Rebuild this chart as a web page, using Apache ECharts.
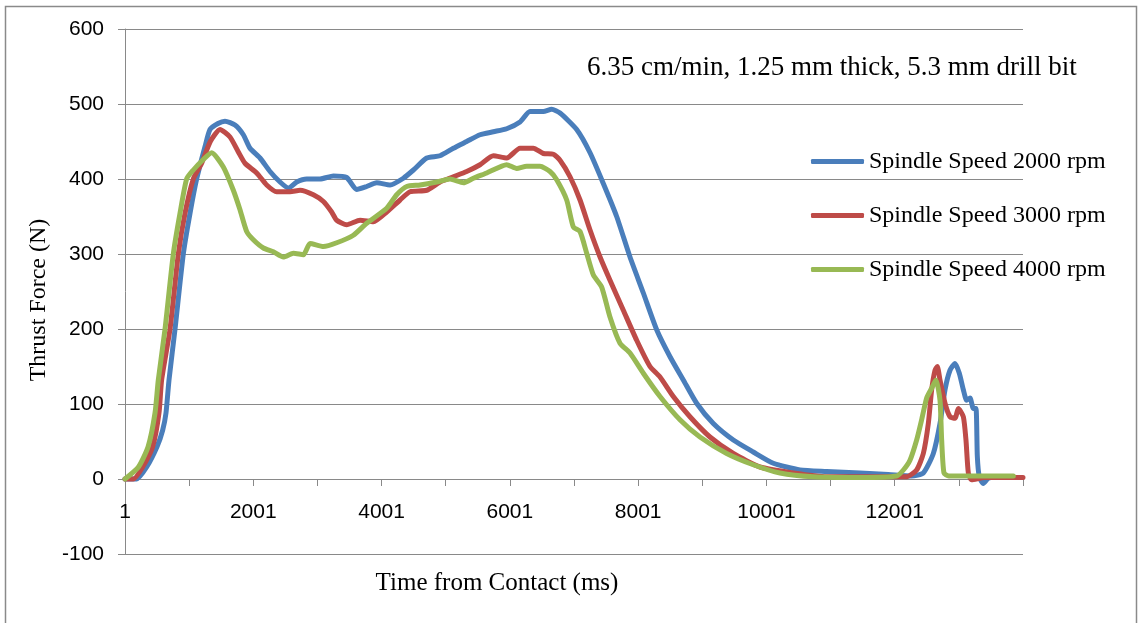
<!DOCTYPE html>
<html>
<head>
<meta charset="utf-8">
<title>Thrust force vs time</title>
<script src="https://cdn.jsdelivr.net/npm/echarts@6/dist/echarts.min.js"></script>
<style>
  html, body { margin: 0; padding: 0; background: #fff; }
  #chart { width: 1142px; height: 623px; }
</style>
</head>
<body>
<div id="chart"></div>
<script>
// Sample times (ms from contact) and thrust force (N) for each spindle speed
const t2000 = [0, 180, 338, 499, 587, 639, 686, 780, 909, 1013, 1117, 1247, 1325, 1450, 1559, 1715, 1845, 1949, 2105, 2261, 2417, 2547, 2677, 2833, 3041, 3249, 3456, 3612, 3768, 3924, 4132, 4340, 4496, 4704, 4911, 5119, 5327, 5535, 5743, 5951, 6158, 6314, 6522, 6652, 6782, 7042, 7250, 7457, 7665, 7873, 8081, 8289, 8497, 8704, 8912, 9172, 9484, 9795, 10107, 10523, 10940, 11459, 11900, 12264, 12446, 12602, 12706, 12784, 12862, 12940, 13007, 13070, 13122, 13174, 13226, 13267, 13288, 13319, 13381, 13459, 13600, 13800];
const f2000 = [0, 0, 16, 43, 65, 88, 132, 200, 300, 354, 400, 443, 466, 474, 477, 472, 459, 441, 428, 410, 396, 388, 396, 400, 400, 404, 402, 386, 390, 395, 392, 401, 412, 428, 431, 441, 450, 459, 463, 467, 476, 490, 490, 493, 488, 466, 435, 394, 350, 296, 248, 199, 163, 132, 101, 74, 52, 36, 21, 12, 10, 8, 6, 4, 8, 34, 74, 119, 145, 154, 141, 119, 105, 108, 94, 94, 30, 3, -6, 1, 3, 3];

const t3000 = [0, 130, 275, 431, 530, 571, 702, 831, 935, 1065, 1195, 1330, 1481, 1637, 1767, 1871, 2053, 2209, 2365, 2573, 2729, 2937, 3093, 3222, 3301, 3456, 3664, 3872, 4080, 4288, 4444, 4704, 4911, 5119, 5327, 5535, 5743, 5951, 6158, 6366, 6522, 6678, 6782, 6938, 7094, 7250, 7406, 7561, 7769, 7977, 8185, 8341, 8548, 8808, 9120, 9484, 9900, 10419, 10940, 11600, 12186, 12342, 12446, 12524, 12576, 12628, 12664, 12706, 12784, 12862, 12940, 12992, 13070, 13111, 13148, 13200, 13400, 13700, 14000];
const f3000 = [0, 0, 16, 43, 88, 132, 200, 300, 354, 400, 421, 450, 466, 456, 436, 421, 408, 392, 383, 383, 385, 379, 370, 356, 345, 339, 345, 343, 356, 372, 383, 385, 396, 403, 410, 419, 431, 428, 441, 441, 434, 433, 425, 403, 372, 332, 296, 265, 225, 185, 150, 136, 110, 83, 56, 34, 16, 8, 3, 3, 3, 12, 34, 74, 119, 145, 150, 132, 101, 83, 81, 94, 83, 52, 8, -1, 2, 2, 2];

const t4000 = [0, 210, 360, 468, 519, 624, 753, 857, 961, 1065, 1221, 1351, 1533, 1689, 1793, 1897, 2001, 2157, 2313, 2469, 2625, 2781, 2885, 3093, 3301, 3560, 3768, 4080, 4236, 4392, 4600, 4860, 5067, 5275, 5431, 5639, 5951, 6106, 6262, 6470, 6626, 6730, 6886, 6990, 7094, 7198, 7302, 7431, 7561, 7717, 7873, 8081, 8341, 8652, 8964, 9380, 9795, 10211, 10731, 11459, 12031, 12135, 12238, 12342, 12420, 12498, 12576, 12643, 12706, 12732, 12768, 12842, 13300, 13850];
const f4000 = [0, 16, 43, 88, 132, 200, 300, 354, 400, 412, 426, 435, 416, 385, 359, 330, 319, 308, 303, 296, 301, 299, 314, 310, 315, 325, 341, 361, 379, 390, 392, 396, 400, 395, 401, 408, 419, 414, 417, 417, 410, 399, 372, 336, 330, 301, 272, 256, 216, 181, 168, 141, 110, 79, 56, 34, 19, 8, 3, 2, 4, 12, 25, 52, 79, 108, 121, 132, 105, 52, 8, 4, 4, 4];

const seriesNames = ['Spindle Speed 2000 rpm', 'Spindle Speed 3000 rpm', 'Spindle Speed 4000 rpm'];
const seriesColors = ['#4a7ebb', '#be4b48', '#98b954'];
const subtitle = '6.35 cm/min, 1.25 mm thick, 5.3 mm drill bit';
const xTitle = 'Time from Contact (ms)';
const yTitle = 'Thrust Force (N)';

const pairs = (ts, fs) => ts.map((t, i) => [t, fs[i]]);
const seriesData = [pairs(t2000, f2000), pairs(t3000, f3000), pairs(t4000, f4000)];

const serif = '"Liberation Serif", "Times New Roman", serif';
const sans = '"Liberation Sans", Arial, sans-serif';
const gridGray = '#898989';

// Plot area: y from -100 to 600 over 525 px, so the zero line sits 75 px above the bottom edge
const gridTop = 29, gridBottom = 69, plotHeight = 623 - gridTop - gridBottom;
const zeroLift = plotHeight * 100 / 700;

const chart = echarts.init(document.getElementById('chart'), null, { renderer: 'canvas' });

chart.setOption({
  animation: false,
  backgroundColor: '#fff',
  title: {
    text: subtitle,
    left: 587,
    top: 54,
    padding: 0,
    textStyle: { fontFamily: serif, fontSize: 27, fontWeight: 'normal', color: '#000' }
  },
  legend: {
    orient: 'vertical',
    left: 811,
    top: 149.5,
    padding: 0,
    itemWidth: 53,
    itemHeight: 5,
    itemGap: 30,
    icon: 'roundRect',
    data: seriesNames,
    textStyle: { fontFamily: serif, fontSize: 24, color: '#000', lineHeight: 24 }
  },
  graphic: [{
    type: 'rect',
    silent: true,
    shape: { x: 5.5, y: 6.5, width: 1131, height: 700 },
    style: { fill: null, stroke: '#8a8a8a', lineWidth: 1.5 }
  }],
  grid: { left: 125, right: 119, top: gridTop, bottom: gridBottom, containLabel: false, outerBoundsMode: 'none' },
  xAxis: {
    type: 'value',
    min: 0,
    max: 14000,
    interval: 1000,
    offset: -zeroLift,
    name: xTitle,
    nameLocation: 'middle',
    nameGap: 92,
    nameTextStyle: { fontFamily: serif, fontSize: 25, color: '#000', padding: [0, 154, 0, 0] },
    axisLine: { onZero: false, lineStyle: { color: gridGray, width: 1 } },
    axisTick: { show: true, length: 7, lineStyle: { color: gridGray } },
    axisLabel: {
      margin: 23,
      fontFamily: sans,
      fontSize: 21,
      color: '#000',
      formatter: v => (v % 2000 === 0 && v < 14000) ? String(v + 1) : ''
    },
    splitLine: { show: false }
  },
  yAxis: {
    type: 'value',
    min: -100,
    max: 600,
    interval: 100,
    name: yTitle,
    nameLocation: 'middle',
    nameRotate: 90,
    nameGap: 74,
    nameTextStyle: { fontFamily: serif, fontSize: 24, color: '#000', padding: [0, 17, 0, 0] },
    axisLine: { show: true, lineStyle: { color: gridGray, width: 1 } },
    axisTick: { show: true, length: 7, lineStyle: { color: gridGray } },
    axisLabel: { margin: 21, fontFamily: sans, fontSize: 21, color: '#000' },
    splitLine: { show: true, lineStyle: { color: gridGray, width: 1 } }
  },
  series: seriesNames.map((name, i) => ({
    name,
    type: 'line',
    data: seriesData[i],
    showSymbol: false,
    symbol: 'none',
    smooth: 0.2,
    color: seriesColors[i],
    lineStyle: { width: 5, color: seriesColors[i], cap: 'round', join: 'round' },
    z: 2 + i
  }))
});
</script>
</body>
</html>
